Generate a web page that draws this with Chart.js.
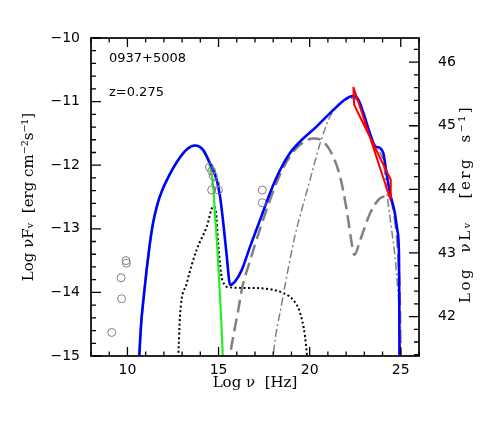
<!DOCTYPE html>
<html><head><meta charset="utf-8">
<script src="https://cdn.jsdelivr.net/npm/chart.js@4/dist/chart.umd.min.js"></script>
<style>html,body{margin:0;padding:0;background:#fff}canvas{display:block}</style>
</head><body>
<canvas id="c" width="491" height="436"></canvas>
<script>
// ---- tick labels ----
const xTicks = [10, 15, 20, 25];
const yTicks = [-15, -14, -13, -12, -11, -10];
const y2Ticks = [42, 43, 44, 45, 46];
const lumOffset = 56.38; // log(4 pi d_L^2), z = 0.275

// ---- observed data (open circles) ----
const obsLogNu  = [9.14, 9.68, 9.65, 9.92, 9.94, 14.50, 14.62, 14.71, 14.84, 14.62, 14.99, 17.40, 17.40];
const obsLogF   = [-14.63, -14.10, -13.77, -13.50, -13.54, -12.03, -12.09, -12.17, -12.30, -12.39, -12.39, -12.39, -12.59];

// ---- Fermi bow-tie ----
const fermiLogNu = [22.40, 24.41, 24.45, 22.44, 22.40];
const fermiLogF  = [-10.77, -12.52, -12.23, -11.05, -10.77];

// ---- total model (blue) ----
const totalLogNu = [10.60, 10.65, 10.75, 10.90, 11.05, 11.20, 11.35, 11.50, 11.70, 11.90, 12.10, 12.50, 12.90, 13.30, 13.70, 14.16, 14.53, 14.90, 15.08, 15.26, 15.45, 15.59, 15.65, 15.90, 16.27, 16.73, 17.28, 17.82, 18.37, 18.92, 19.47, 20.39, 21.30, 22.03, 22.40, 22.67, 22.95, 23.31, 23.59, 23.86, 24.04, 24.22, 24.41, 24.68, 24.81, 24.90, 24.92, 24.93];
const totalLogF  = [-15.30, -15.00, -14.50, -14.05, -13.65, -13.30, -13.00, -12.78, -12.56, -12.40, -12.27, -12.05, -11.87, -11.74, -11.69, -11.76, -11.97, -12.23, -12.49, -12.91, -13.43, -13.83, -13.88, -13.83, -13.65, -13.28, -12.86, -12.44, -12.08, -11.81, -11.63, -11.39, -11.13, -10.95, -10.91, -10.97, -11.18, -11.50, -11.70, -11.73, -11.81, -12.13, -12.44, -12.76, -13.02, -13.39, -14.17, -15.30];

// ---- synchrotron (green) ----
const syncLogNu = [10.60, 10.65, 10.75, 10.90, 11.05, 11.20, 11.35, 11.50, 11.70, 11.90, 12.10, 12.50, 12.90, 13.30, 13.70, 13.98, 14.26, 14.53, 14.71, 14.80, 14.93, 15.03, 15.12, 15.23, 15.26];
const syncLogF  = [-15.30, -15.00, -14.50, -14.05, -13.65, -13.30, -13.00, -12.78, -12.56, -12.40, -12.27, -12.05, -11.87, -11.74, -11.69, -11.72, -11.83, -12.02, -12.34, -12.76, -13.28, -13.81, -14.28, -15.00, -15.30];

// ---- disk + torus + corona (black dotted) ----
const diskLogNu = [12.70, 12.79, 12.88, 13.25, 13.80, 14.35, 14.71, 14.85, 15.00, 15.20, 15.60, 16.50, 17.82, 18.55, 19.10, 19.47, 19.75, 19.92];
const diskLogF  = [-15.30, -15.00, -14.38, -13.86, -13.33, -12.97, -12.65, -12.72, -13.30, -13.80, -13.92, -13.93, -13.95, -14.01, -14.12, -14.32, -14.70, -15.20];

// ---- SSC (grey dashed) ----
const sscLogNu = [15.55, 15.63, 15.90, 16.08, 16.27, 16.73, 17.28, 17.82, 18.37, 18.92, 19.47, 20.20, 20.75, 21.30, 21.67, 22.03, 22.31, 22.45, 22.77, 23.31, 23.86, 24.22, 24.50, 24.68, 24.86, 24.95, 25.00];
const sscLogF  = [-15.20, -15.00, -14.55, -14.28, -13.96, -13.50, -13.00, -12.55, -12.15, -11.86, -11.68, -11.58, -11.63, -11.87, -12.18, -12.70, -13.23, -13.41, -13.18, -12.76, -12.52, -12.49, -12.57, -12.86, -13.43, -14.17, -15.20];

// ---- external Compton (grey dot-dashed) ----
const ecLogNu = [17.95, 18.00, 18.47, 18.74, 19.20, 19.47, 20.02, 20.57, 21.11, 21.67, 22.03, 22.40, 22.67, 22.95, 23.31, 23.59, 23.86, 24.04, 24.26, 24.50, 24.68, 24.81, 24.89, 24.95, 25.00];
const ecLogF  = [-15.20, -15.00, -14.17, -13.75, -13.10, -12.80, -12.23, -11.66, -11.24, -11.03, -10.97, -10.95, -11.00, -11.20, -11.53, -11.73, -11.80, -11.95, -12.49, -13.02, -13.43, -13.86, -14.17, -14.60, -15.20];

const pts = (xs, ys) => xs.map((x, i) => ({x: x, y: ys[i]}));
const curve = (xs, ys, color, width, dash) => ({
  data: pts(xs, ys), showLine: true, pointRadius: 0, pointHoverRadius: 0,
  borderColor: color, borderWidth: width, borderDash: dash || [],
  cubicInterpolationMode: 'monotone', fill: false
});

const minus = v => (v < 0 ? '\u2212' + Math.abs(v) : String(v));
const tickFont = {family: 'DejaVu Sans', size: 14};

const decor = {
  id: 'decor',
  afterDraw(chart) {
    const {ctx, chartArea: a, scales: {x, y, y2}} = chart;
    ctx.save();
    ctx.strokeStyle = '#000';
    ctx.lineWidth = 1.3;
    ctx.beginPath();
    for (let v = 8; v <= 26; v++) {
      const px = x.getPixelForValue(v);
      const L = v % 5 === 0 ? 9 : 4.5;
      ctx.moveTo(px, a.bottom); ctx.lineTo(px, a.bottom - L);
      ctx.moveTo(px, a.top); ctx.lineTo(px, a.top + L);
    }
    for (let i = 0; i <= 25; i++) {
      const py = y.getPixelForValue(-15 + i * 0.2);
      const L = i % 5 === 0 ? 10 : 5;
      ctx.moveTo(a.left, py); ctx.lineTo(a.left + L, py);
    }
    for (let i = 0; ; i++) {
      const v = 41.4 + i * 0.2;
      if (v > y2.max) break;
      const py = y2.getPixelForValue(v);
      const major = Math.abs(v - Math.round(v)) < 1e-6;
      const L = major ? 10 : 5;
      ctx.moveTo(a.right, py); ctx.lineTo(a.right - L, py);
    }
    ctx.stroke();
    ctx.lineWidth = 1.7;
    ctx.strokeRect(a.left, a.top, a.right - a.left, a.bottom - a.top);

    ctx.fillStyle = '#000';
    ctx.font = '13px "DejaVu Sans"';
    ctx.textBaseline = 'middle';
    ctx.textAlign = 'left';
    ctx.fillText('0937+5008', 109, 59);
    ctx.fillText('z=0.275', 109, 93);

    ctx.translate(466, 204);
    ctx.rotate(-Math.PI / 2);
    ctx.textAlign = 'center';
    ctx.font = '15px "DejaVu Serif"';
    try { ctx.letterSpacing = '2.5px'; } catch (e) {}
    ctx.fillText('Log  \u03bdL\u1d65   [erg  s\u207b\u00b9]', 0, 0);
    ctx.restore();
  }
};

new Chart(document.getElementById('c'), {
  type: 'scatter',
  data: {
    datasets: [
      {data: pts(obsLogNu, obsLogF), showLine: false, pointRadius: 4, pointHoverRadius: 4,
       pointStyle: 'circle', borderColor: '#808080', backgroundColor: 'rgba(0,0,0,0)', borderWidth: 1},
      {data: pts(fermiLogNu, fermiLogF), showLine: true, pointRadius: 0, borderColor: '#ff0000',
       borderWidth: 2, tension: 0, fill: false},
      curve(totalLogNu, totalLogF, '#0000ff', 2.6),
      curve(syncLogNu, syncLogF, '#22ee22', 2.2),
      curve(sscLogNu, sscLogF, '#808080', 2.5, [13, 6]),
      curve(ecLogNu, ecLogF, '#808080', 1.5, [8, 3, 2, 3]),
      curve(diskLogNu, diskLogF, '#000000', 2, [2, 2.5])
    ]
  },
  options: {
    responsive: false,
    animation: false,
    devicePixelRatio: 1,
    layout: {padding: {top: 38, left: 0, right: 0, bottom: 0}},
    plugins: {legend: {display: false}, tooltip: {enabled: false}},
    events: [],
    scales: {
      x: {
        type: 'linear', min: 8, max: 26,
        afterBuildTicks: s => { s.ticks = xTicks.map(v => ({value: v})); },
        afterFit: s => { s.height = 80; },
        grid: {display: false, drawTicks: false},
        border: {display: false},
        ticks: {color: '#000', font: tickFont, padding: 6, maxRotation: 0, autoSkip: false},
        title: {display: true, text: 'Log \u03bd  [Hz]', color: '#000',
                font: {family: 'DejaVu Serif', size: 15}, padding: {top: 0, bottom: 44}}
      },
      y: {
        type: 'linear', position: 'left', min: -15, max: -10,
        afterBuildTicks: s => { s.ticks = yTicks.map(v => ({value: v})); },
        afterFit: s => { s.width = 91; },
        grid: {display: false, drawTicks: false},
        border: {display: false},
        ticks: {color: '#000', font: tickFont, padding: 11, callback: v => minus(v)},
        title: {display: true, text: 'Log \u03bdF\u1d65  [erg cm\u207b\u00b2s\u207b\u00b9]', color: '#000',
                font: {family: 'DejaVu Serif', size: 15}, padding: {top: 20, bottom: 0}}
      },
      y2: {
        type: 'linear', position: 'right', min: -15 + lumOffset, max: -10 + lumOffset,
        afterBuildTicks: s => { s.ticks = y2Ticks.map(v => ({value: v})); },
        afterFit: s => { s.width = 72; },
        grid: {display: false, drawTicks: false},
        border: {display: false},
        ticks: {color: '#000', font: tickFont, padding: 19}
      }
    }
  },
  plugins: [decor]
});
</script>
</body></html>
